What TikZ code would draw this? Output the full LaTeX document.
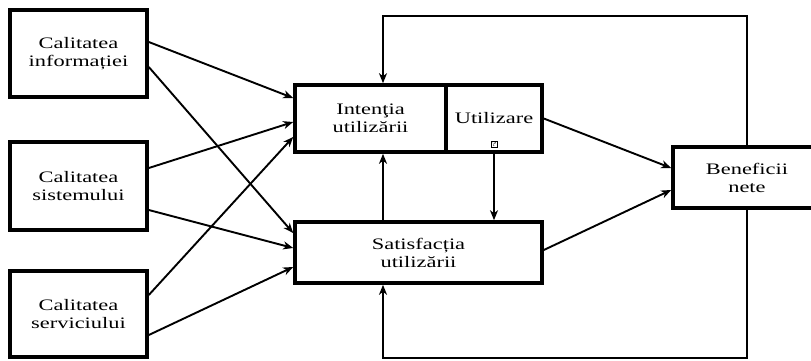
\documentclass[tikz,border=0pt]{standalone}
\usepackage{fontspec}
\setmainfont{Liberation Serif}[FakeStretch=1.4]
\usetikzlibrary{arrows.meta}

\begin{document}
\begin{tikzpicture}[x=1pt,y=-1pt,
    box/.style={draw,line width=3.6pt,align=center,inner sep=0pt,font=\fontsize{16}{18}\selectfont},
    arr/.style={-{Stealth[length=10pt,width=8pt,inset=3pt]},line width=1.9pt}]
  \useasboundingbox (0,0) rectangle (811,360);
  % factori de calitate
  \node[box,minimum width=137pt,minimum height=87pt] (info) at (78.5,53.5) {Calitatea\\informației};
  \node[box,minimum width=137pt,minimum height=88pt] (sist) at (78.5,186) {Calitatea\\sistemului};
  \node[box,minimum width=137pt,minimum height=86pt] (serv) at (78.5,314) {Calitatea\\serviciului};
  % utilizare si satisfactie
  \node[box,minimum width=151pt,minimum height=67pt] (intent) at (370.5,118.5) {Intenţia\\utilizării};
  \node[box,minimum width=96pt,minimum height=67pt] (util) at (494,118.5) {Utilizare};
  \node[draw,line width=0.6pt,inner sep=0.8pt,font=\fontsize{7}{7}\selectfont] (qm) at (494,144) {?};
  \node[box,minimum width=247pt,minimum height=61pt] (sat) at (418.5,252.5) {Satisfacția\\utilizării};
  \node[box,minimum width=148pt,minimum height=61pt] (ben) at (747,177.5) {Beneficii\\nete};
  \coordinate (fbtop) at (383,16);
  \coordinate (fbbot) at (383,358);
  % sageti de la factori
  \draw[arr] ([yshift=11.5pt]info.east) -- ([yshift=20.5pt]intent.west);
  \draw[arr] ([yshift=-13.5pt]info.east) -- ([yshift=19.5pt]sat.west);
  \draw[arr] ([yshift=18pt]sist.east) -- ([yshift=-3.5pt]intent.west);
  \draw[arr] ([yshift=-24pt]sist.east) -- ([yshift=4.5pt]sat.west);
  \draw[arr] ([yshift=19pt]serv.east) -- ([yshift=-18.5pt]intent.west);
  \draw[arr] ([yshift=-21pt]serv.east) -- ([yshift=-14.5pt]sat.west);
  % legaturi centrale
  \draw[arr] (sat.north -| fbtop) -- (intent.south -| fbtop);
  \draw[arr] (util.south) -- (util.south |- sat.north);
  \draw[arr] (util.east) -- ([yshift=9.5pt]ben.west);
  \draw[arr] ([yshift=2.5pt]sat.east) -- ([yshift=-12.5pt]ben.west);
  % bucle de feedback
  \draw[arr] (ben.north) |- (fbtop) -- (fbtop |- intent.north);
  \draw[arr] (ben.south) |- (fbbot) -- (fbbot |- sat.south);
\end{tikzpicture}
\end{document}
